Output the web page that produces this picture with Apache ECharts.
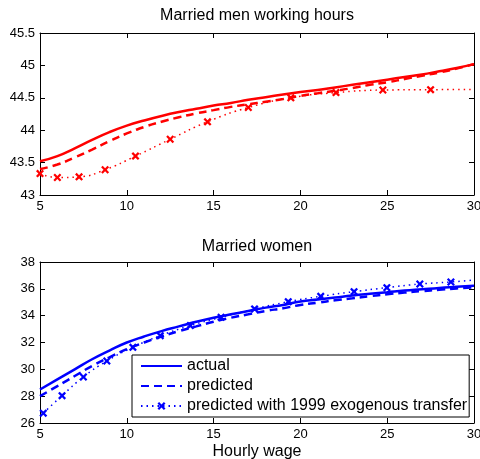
<!DOCTYPE html>
<html>
<head>
<meta charset="utf-8">
<script src="https://cdn.jsdelivr.net/npm/echarts@6/dist/echarts.min.js"></script>
<style>
  html, body { margin: 0; padding: 0; background: #fff; }
  #chart { width: 480px; height: 459px; }
</style>
</head>
<body>
<div id="chart"></div>
<script>
'use strict';

// hourly wage grid for the smooth curves
var wages = [5, 6, 7, 8, 9, 10, 11, 12, 13, 14, 15, 16, 17, 18, 19, 20, 21, 22, 23, 24, 25, 26, 27, 28, 29, 30];

// married men
var menActual = [43.52, 43.6, 43.72, 43.85, 43.97, 44.07, 44.15, 44.22, 44.28, 44.33, 44.38, 44.42, 44.47, 44.51, 44.55, 44.59, 44.62, 44.66, 44.7, 44.74, 44.78, 44.82, 44.86, 44.91, 44.96, 45.02];
var menPredicted = [43.4, 43.47, 43.58, 43.7, 43.83, 43.95, 44.05, 44.13, 44.2, 44.26, 44.31, 44.36, 44.4, 44.44, 44.48, 44.53, 44.57, 44.61, 44.65, 44.7, 44.74, 44.79, 44.84, 44.89, 44.95, 45.02];
var menTransferX = [5, 6, 7.25, 8.75, 10.5, 12.5, 14.65, 17, 19.45, 22.05, 24.75, 27.5, 30];
var menTransferY = [43.33, 43.27, 43.28, 43.39, 43.6, 43.86, 44.13, 44.35, 44.5, 44.58, 44.62, 44.625, 44.63];

// married women
var womenActual = [28.5, 29.25, 30.0, 30.75, 31.4, 32.0, 32.45, 32.85, 33.2, 33.55, 33.85, 34.1, 34.35, 34.6, 34.8, 35.05, 35.2, 35.35, 35.5, 35.63, 35.75, 35.87, 35.97, 36.07, 36.15, 36.23];
var womenPredicted = [28.0, 28.75, 29.5, 30.25, 30.9, 31.5, 32.0, 32.45, 32.85, 33.2, 33.55, 33.85, 34.1, 34.35, 34.55, 34.8, 34.97, 35.15, 35.3, 35.45, 35.6, 35.72, 35.83, 35.93, 36.03, 36.12];
var womenTransferX = [5.19, 6.27, 7.5, 8.85, 10.35, 11.93, 13.66, 15.43, 17.36, 19.3, 21.17, 23.09, 24.98, 26.88, 28.67, 30];
var womenTransferY = [26.73, 28.04, 29.43, 30.62, 31.64, 32.51, 33.26, 33.88, 34.5, 35.04, 35.44, 35.79, 36.09, 36.36, 36.51, 36.66];

var legendNames = ['actual', 'predicted', 'predicted with 1999 exogenous transfer'];

var FONT = 'Liberation Sans';
var XMARK = 'path://M0,2 L2,0 L5,3 L8,0 L10,2 L7,5 L10,8 L8,10 L5,7 L2,10 L0,8 L3,5 Z';

function pairs(xs, ys) {
	return xs.map(function(x, i) { return [x, ys[i]]; });
}

// markers on every point except the last one
function markedPairs(xs, ys) {
	return xs.map(function(x, i) {
		var p = { value: [x, ys[i]] };
		if (i === xs.length - 1) p.symbol = 'none';
		return p;
	});
}

function xAxisFor(gridIndex) {
	return {
		type: 'value', gridIndex: gridIndex, min: 5, max: 30, interval: 5,
		axisLine: { show: true, onZero: false, lineStyle: { color: '#000', width: 1 } },
		axisTick: { show: true, inside: true, length: 5, lineStyle: { color: '#000' } },
		axisLabel: { color: '#000', fontSize: 13, fontFamily: FONT, margin: 5 },
		splitLine: { show: false }
	};
}

function xAxisTop(gridIndex) {
	var a = xAxisFor(gridIndex);
	a.position = 'top';
	a.axisLabel = { show: false };
	return a;
}

function yAxisFor(gridIndex, min, max, interval) {
	return {
		type: 'value', gridIndex: gridIndex, min: min, max: max, interval: interval,
		axisLine: { show: true, onZero: false, lineStyle: { color: '#000', width: 1 } },
		axisTick: { show: true, inside: true, length: 5, lineStyle: { color: '#000' } },
		axisLabel: { color: '#000', fontSize: 13, fontFamily: FONT, margin: 5 },
		splitLine: { show: false }
	};
}

function yAxisRight(gridIndex, min, max, interval) {
	var a = yAxisFor(gridIndex, min, max, interval);
	a.position = 'right';
	a.axisLabel = { show: false };
	return a;
}

function lineSeries(name, data, color, type, width, axisIdx) {
	return {
		name: name, type: 'line', data: data,
		xAxisIndex: axisIdx, yAxisIndex: axisIdx,
		smooth: true, showSymbol: false, symbol: 'none',
		lineStyle: { color: color, type: type, width: width },
		itemStyle: { color: color },
		animation: false
	};
}

function markedSeries(name, data, color, axisIdx) {
	return {
		name: name, type: 'line', data: data,
		xAxisIndex: axisIdx, yAxisIndex: axisIdx,
		smooth: true, symbol: XMARK, symbolSize: 8, showSymbol: true,
		lineStyle: { color: color, type: [1.5, 4], width: 1.5 },
		itemStyle: { color: color },
		animation: false
	};
}

var chart = echarts.init(document.getElementById('chart'), null, { renderer: 'canvas' });

var titleStyle = { fontSize: 16, fontWeight: 'normal', color: '#000', fontFamily: FONT };

var option = {
	backgroundColor: '#fff',
	textStyle: { fontFamily: FONT },
	title: [
		{ text: 'Married men working hours', left: 257, top: 8, padding: 0, textAlign: 'center', textStyle: titleStyle },
		{ text: 'Married women', left: 257, top: 239, padding: 0, textAlign: 'center', textStyle: titleStyle },
		{ text: 'Hourly wage', left: 257, top: 444, padding: 0, textAlign: 'center', textStyle: titleStyle }
	],
	grid: [
		{ left: 40, right: 6, top: 33, height: 162, outerBoundsMode: 'none', containLabel: false },
		{ left: 40, right: 6, top: 262, height: 161, outerBoundsMode: 'none', containLabel: false }
	],
	xAxis: [xAxisFor(0), xAxisFor(1), xAxisTop(0), xAxisTop(1)],
	yAxis: [yAxisFor(0, 43, 45.5, 0.5), yAxisFor(1, 26, 38, 2), yAxisRight(0, 43, 45.5, 0.5), yAxisRight(1, 26, 38, 2)],
	legend: {
		data: [
			{ name: legendNames[0], itemStyle: { opacity: 0 } },
			{ name: legendNames[1], itemStyle: { opacity: 0 } },
			{ name: legendNames[2] }
		],
		orient: 'vertical',
		left: 132, top: 355,
		itemWidth: 41, itemHeight: 10, itemGap: 4,
		padding: [3, 2, 3, 8],
		backgroundColor: '#fff',
		borderColor: '#000', borderWidth: 1, borderRadius: 0,
		textStyle: { fontSize: 16, color: '#000', fontFamily: FONT },
		selectedMode: false
	},
	series: [
		lineSeries('men actual', pairs(wages, menActual), '#ff0000', 'solid', 2.5, 0),
		lineSeries('men predicted', pairs(wages, menPredicted), '#ff0000', [8, 5], 2.5, 0),
		markedSeries('men transfer', markedPairs(menTransferX, menTransferY), '#ff0000', 0),
		lineSeries(legendNames[0], pairs(wages, womenActual), '#0000ff', 'solid', 2.5, 1),
		lineSeries(legendNames[1], pairs(wages, womenPredicted), '#0000ff', [8, 5], 2.5, 1),
		markedSeries(legendNames[2], markedPairs(womenTransferX, womenTransferY), '#0000ff', 1)
	]
};

chart.setOption(option);
</script>
</body>
</html>
